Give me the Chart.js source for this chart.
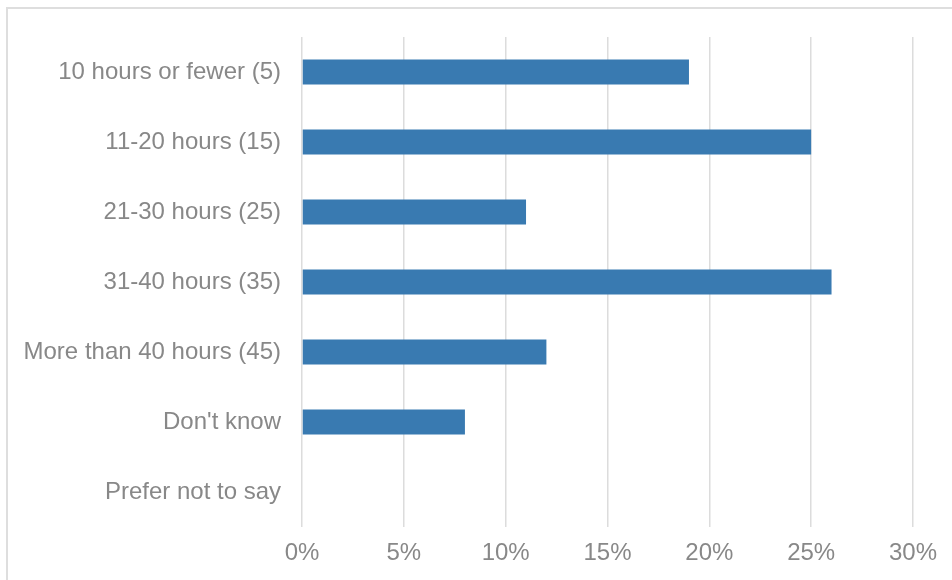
<!DOCTYPE html>
<html>
<head>
<meta charset="utf-8">
<script src="https://cdn.jsdelivr.net/npm/chart.js@4/dist/chart.umd.min.js"></script>
<style>
  html, body { margin: 0; padding: 0; background: #fff; overflow: hidden; }
  #wrap { position: relative; width: 952px; height: 580px; }
</style>
</head>
<body>
<div id="wrap"><canvas id="hours"></canvas></div>
<script>
// Weekly hours answers, share of respondents
const categories = [
  "10 hours or fewer (5)",
  "11-20 hours (15)",
  "21-30 hours (25)",
  "31-40 hours (35)",
  "More than 40 hours (45)",
  "Don't know",
  "Prefer not to say"
];
const shares = [19, 25, 11, 26, 12, 8, 0];
const xTicks = [0, 5, 10, 15, 20, 25, 30];

const labelFont = { family: "'Liberation Sans', Arial, sans-serif", size: 24 };
const labelColor = "#888888";

// light frame round the whole chart
const framePlugin = {
  id: "frame",
  beforeDraw(chart) {
    const ctx = chart.ctx;
    ctx.save();
    ctx.strokeStyle = "#dedede";
    ctx.lineWidth = 2;
    ctx.strokeRect(7, 8, chart.width + 20, chart.height + 20);
    ctx.restore();
  }
};

new Chart(document.getElementById("hours"), {
  type: "bar",
  data: {
    labels: categories,
    datasets: [{
      data: shares,
      backgroundColor: "#397ab1",
      borderWidth: 0,
      barPercentage: 0.36,
      categoryPercentage: 1
    }]
  },
  options: {
    indexAxis: "y",
    responsive: true,
    maintainAspectRatio: false,
    animation: false,
    layout: { padding: { left: 0, right: 39, top: 37, bottom: 0 } },
    plugins: { legend: { display: false }, tooltip: { enabled: false } },
    scales: {
      x: {
        min: 0,
        max: 30,
        afterBuildTicks(scale) {
          scale.ticks = xTicks.map(v => ({ value: v }));
        },
        afterFit(scale) { scale.height = 53; },
        grid: { color: "#dcdcdc", lineWidth: 1.5, drawTicks: false },
        border: { display: false },
        ticks: {
          font: labelFont,
          color: labelColor,
          padding: 12,
          callback: v => v + "%"
        }
      },
      y: {
        afterFit(scale) { scale.width = 302; },
        grid: { display: false, drawTicks: false },
        border: { display: false },
        ticks: { font: labelFont, color: labelColor, padding: 21 }
      }
    }
  },
  plugins: [framePlugin]
});
</script>
</body>
</html>
